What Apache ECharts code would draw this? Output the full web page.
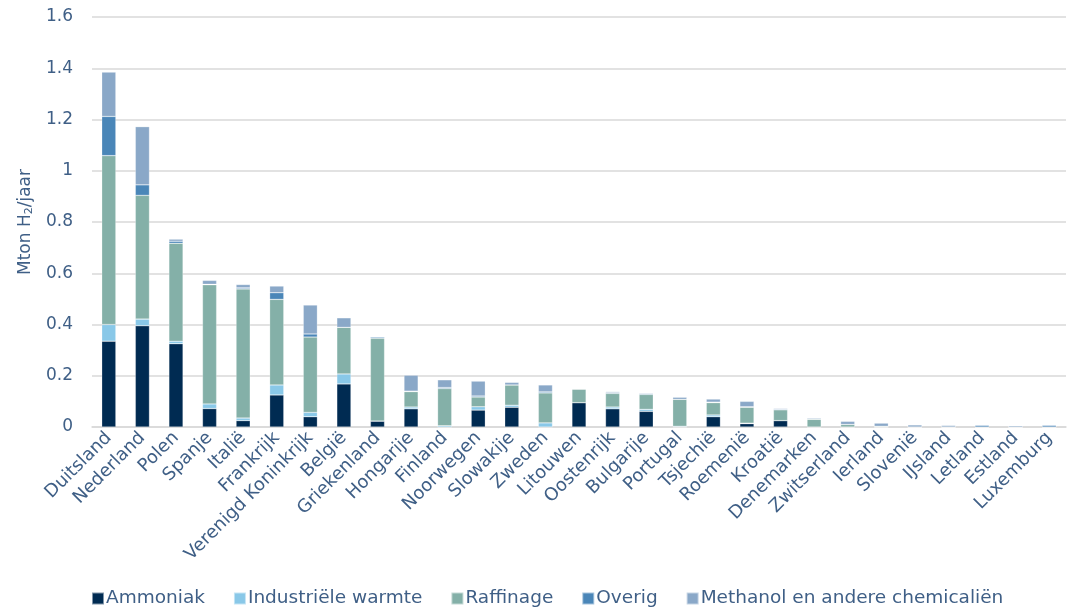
<!DOCTYPE html>
<html>
<head>
<meta charset="utf-8">
<script src="https://cdn.jsdelivr.net/npm/echarts@6/dist/echarts.min.js"></script>
<style>html,body{margin:0;padding:0;background:#fff}#c{width:1076px;height:612px}</style>
</head>
<body>
<div id="c"></div>
<script>
const categories = ['Duitsland','Nederland','Polen','Spanje','Italië','Frankrijk','Verenigd Koninkrijk','België','Griekenland','Hongarije','Finland','Noorwegen','Slowakije','Zweden','Litouwen','Oostenrijk','Bulgarije','Portugal','Tsjechië','Roemenië','Kroatië','Denemarken','Zwitserland','Ierland','Slovenië','IJsland','Letland','Estland','Luxemburg'];
const ammoniak   = [0.335,0.395,0.325,0.072,0.025,0.125,0.040,0.168,0.023,0.071,0,0.066,0.077,0,0.095,0.071,0.061,0,0.040,0.013,0.025,0,0,0,0,0,0,0,0];
const industrie  = [0.065,0.026,0.010,0.018,0.010,0.039,0.017,0.039,0,0.007,0.005,0.013,0.008,0.016,0,0.007,0.008,0.003,0.007,0.002,0,0,0,0,0,0,0,0,0];
const raffinage  = [0.659,0.483,0.382,0.465,0.504,0.334,0.294,0.182,0.323,0.060,0.145,0.038,0.079,0.117,0.053,0.053,0.058,0.105,0.048,0.062,0.042,0.030,0.010,0.003,0,0,0,0,0];
const overig     = [0.153,0.041,0.008,0.002,0.004,0.026,0.012,0,0.005,0.002,0.004,0.004,0,0.004,0,0.003,0.003,0,0.002,0.002,0.003,0,0,0,0,0,0.007,0,0.007];
const methanol   = [0.173,0.227,0.008,0.015,0.013,0.026,0.113,0.037,0,0.062,0.030,0.058,0.010,0.027,0,0.004,0.003,0.008,0.012,0.021,0.003,0.004,0.012,0.012,0.008,0.006,0,0.005,0];
const seriesNames = ['Ammoniak','Industriële warmte','Raffinage','Overig','Methanol en andere chemicaliën'];
const seriesColors = ['#002b52','#89c8e8','#84b0a8','#4a86b8','#8aa8c8'];
const yTicks = {min:0,max:1.6,interval:0.2};

const txt = '#3f5f86';
const font = 'DejaVu Sans';
const dataSets = [ammoniak,industrie,raffinage,overig,methanol];
const chart = echarts.init(document.getElementById('c'));
chart.setOption({
  animation:false,
  textStyle:{fontFamily:font},
  grid:{left:92,right:10,top:17,bottom:185},
  legend:{
    bottom:-1,left:86,itemWidth:12,itemHeight:12,itemGap:28,
    icon:'rect',
    textStyle:{color:txt,fontSize:18.5,fontFamily:font,padding:[0,0,0,-3]},
    data:seriesNames
  },
  xAxis:{
    type:'category',data:categories,
    axisLine:{lineStyle:{color:'#d9d9d9',width:1.5}},
    axisTick:{show:false},
    axisLabel:{rotate:45,interval:0,color:txt,fontSize:18,fontFamily:font,margin:8}
  },
  yAxis:{
    type:'value',min:yTicks.min,max:yTicks.max,interval:yTicks.interval,
    name:'{a|Mton H}{s|2}{a|/jaar}',nameLocation:'middle',nameGap:44,nameRotate:90,
    nameTextStyle:{rich:{a:{color:txt,fontSize:17,fontFamily:font},s:{color:txt,fontSize:11,fontFamily:font,verticalAlign:'bottom',padding:[8,0,0,0]}}},
    axisLine:{show:false},axisTick:{show:false},
    axisLabel:{color:txt,fontSize:17,fontFamily:font,margin:19},
    splitLine:{lineStyle:{color:'#d9d9d9',width:1.5}}
  },
  series:seriesNames.map((n,i)=>({
    name:n,type:'bar',stack:'t',data:dataSets[i],barWidth:'42%',
    itemStyle:{color:seriesColors[i],borderColor:'rgba(255,255,255,0.5)',borderWidth:0.5}
  }))
});
</script>
</body>
</html>
